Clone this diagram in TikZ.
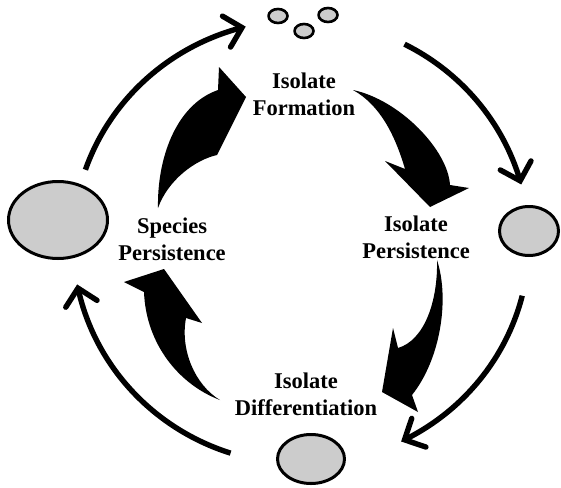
\documentclass[tikz,border=0pt]{standalone}
\usepackage{fontspec}
\setmainfont{Liberation Serif}
\usetikzlibrary{shapes.geometric,decorations.markings}
\definecolor{cellgray}{RGB}{204,204,204}

\begin{document}
\begin{tikzpicture}[x=1pt, y=-1pt, line join=round,
    cell/.style={ellipse, draw=black, line width=3pt, fill=cellgray, inner sep=0pt},
    stage/.style={font=\bfseries\fontsize{22.5}{27}\selectfont, align=center, inner sep=0pt},
    ring/.style={line width=5.4pt, postaction={decorate},
      decoration={markings, mark=at position 1 with {
        \draw[line width=5.4pt, line cap=round, line join=miter] (-16,-16) -- (0,0) -- (-16,16);}}}]
  \useasboundingbox (0,0) rectangle (561,487);

  % --- cells (species, isolate persisting, differentiated isolate) ---
  \node[cell, minimum width=99, minimum height=77] (species) at (58,220) {};
  \node[cell, minimum width=59, minimum height=49] (persist) at (529,231) {};
  \node[cell, minimum width=67, minimum height=49] (differ) at (311,459) {};

  % --- newly formed isolates (three small cells) ---
  \node[cell, line width=2.6pt, minimum width=19, minimum height=14] (iso-a) at (278,16) {};
  \node[cell, line width=2.6pt, minimum width=19, minimum height=14] (iso-b) at (304,31) {};
  \node[cell, line width=2.6pt, minimum width=19, minimum height=14] (iso-c) at (328,15) {};

  % --- stage labels ---
  \node[stage] (formation) at (304,94) {Isolate\\Formation};
  \node[stage] (speciespers) at (172,239) {Species\\Persistence};
  \node[stage] (isolatepers) at (416,237) {Isolate\\Persistence};
  \node[stage] (differentiation) at (306,394) {Isolate\\Differentiation};

  % === outer cycle (thin arcs round the whole figure) ===
  \coordinate (ring-c) at (301,242);
  \draw[ring] (ring-c) ++(199:228 and 222) arc[start angle=199, end angle=255, x radius=228, y radius=222];
  \draw[ring] (ring-c) ++(297:228 and 222) arc[start angle=297, end angle=344, x radius=228, y radius=222];
  \draw[ring] (ring-c) ++(14:228 and 222) arc[start angle=14, end angle=63, x radius=228, y radius=222];
  \draw[ring] (ring-c) ++(108:228 and 222) arc[start angle=108, end angle=168, x radius=228, y radius=222];

  % === inner cycle (solid block arrows between the stages) ===
  % species persistence -> isolate formation
  \coordinate (F-tail) at (158,208);
  \coordinate (F-tip) at (246,97);
  \fill[black] (F-tail) .. controls (157,160) and (175,105) .. (218,90)
    -- (219,67) -- (F-tip) -- (217,155) .. controls (195,160) and (168,180) .. cycle;

  % isolate formation -> isolate persistence
  \coordinate (P-tail) at (353,90);
  \coordinate (P-tip) at (430,207);
  \fill[black] (P-tail) .. controls (400,100) and (448,150) .. (450,185)
    -- (469,188) -- (P-tip) -- (385,161) -- (405,169) .. controls (395,135) and (380,105) .. cycle;

  % isolate persistence -> isolate differentiation
  \coordinate (D-tail) at (437,260);
  \coordinate (D-tip) at (382,392);
  \fill[black] (D-tail) .. controls (450,300) and (440,360) .. (412,395)
    -- (418,412) -- (D-tip) -- (393,328) -- (398,348) .. controls (425,340) and (438,300) .. cycle;

  % isolate differentiation -> species persistence
  \coordinate (S-tail) at (220,400);
  \coordinate (S-tip) at (164,269);
  \fill[black] (S-tail) .. controls (180,385) and (146,345) .. (144,292)
    -- (124,282) -- (S-tip) -- (202,323) -- (186,318) .. controls (180,350) and (195,385) .. cycle;
\end{tikzpicture}
\end{document}
